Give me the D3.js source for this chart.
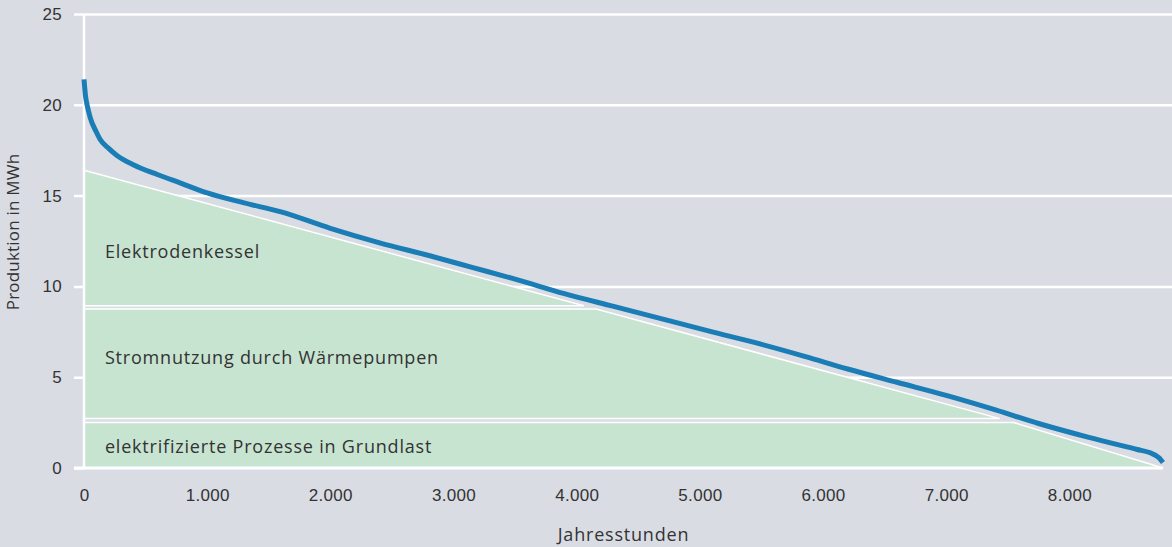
<!DOCTYPE html>
<html>
<head>
<meta charset="utf-8">
<script src="https://cdn.jsdelivr.net/npm/d3@7"></script>
<style>
	body { margin: 0; background: #d9dce3; }
	svg { display: block; font-family: "Open Sans", sans-serif; }
	.tick text { fill: #333; font-size: 17px; letter-spacing: 0.3px; }
</style>
</head>
<body>
<svg id="chart"></svg>
<script>
let w = 1172;
let h = 547;

// load duration curve (hours, MWh)
let hours = [0, 5, 12, 25, 50, 100, 130, 200, 270, 400, 600, 780, 1000, 1300, 1600, 2000, 2400, 2800, 3150, 3500, 3900, 4300, 4700, 5100, 5450, 5850, 6200, 6600, 7000, 7400, 7750, 8150, 8550, 8650, 8730, 8760];
let production = [21.4, 21.0, 20.5, 20.0, 19.3, 18.5, 18.1, 17.6, 17.2, 16.7, 16.15, 15.7, 15.15, 14.6, 14.1, 13.2, 12.4, 11.7, 11.05, 10.4, 9.6, 8.9, 8.2, 7.5, 6.9, 6.15, 5.45, 4.72, 4.0, 3.2, 2.45, 1.7, 1.02, 0.85, 0.55, 0.3];

// upper edge of the green blocks
let envHours = [0, 7500, 8760];
let envValues = [16.4, 2.6, 0];

// stacked blocks
let bandNames = ["elektrifizierte Prozesse in Grundlast", "Stromnutzung durch Wärmepumpen", "Elektrodenkessel"];
let bandLow = [0, 2.72, 8.93];
let bandHigh = [2.5, 8.75, 16.4];

let yTicks = [0, 5, 10, 15, 20, 25];
let xTicks = [0, 1000, 2000, 3000, 4000, 5000, 6000, 7000, 8000];

let margin = {left: 84, right: 9, top: 14, bottom: 79};

let svg = d3.select("#chart")
	.attr("width", w)
	.attr("height", h);

let x = d3.scaleLinear()
	.domain([0, 8760])
	.range([margin.left, w - margin.right]);

let y = d3.scaleLinear()
	.domain([0, 25])
	.range([h - margin.bottom, margin.top]);

let fmt = d3.formatLocale({decimal: ",", thousands: ".", grouping: [3], currency: ["", "€"]}).format(",");

// grid + y labels
let yAxis = svg.append("g")
	.attr("transform", `translate(${margin.left},0)`)
	.call(d3.axisLeft(y).tickValues(yTicks).tickSize(10).tickSizeOuter(0).tickPadding(12))
yAxis.select(".domain").remove();
yAxis.selectAll(".tick line")
	.attr("x2", d => d == 0 ? 0 : w - margin.left)
	.attr("x1", -10)
	.attr("stroke", "#fff")
	.attr("stroke-width", 2.5);

// x labels
let xAxis = svg.append("g")
	.attr("transform", `translate(0,${y(0)})`)
	.call(d3.axisBottom(x).tickValues(xTicks).tickFormat(fmt).tickSize(0).tickPadding(21));
xAxis.select(".domain").remove();

// blocks
let envPts = envHours.map((d, i) => [d, envValues[i]]);
function invEnv(v) {
	for (let i = 0; i < envPts.length - 1; i++) {
		let [h0, v0] = envPts[i], [h1, v1] = envPts[i + 1];
		if (v <= v0 && v >= v1) return h0 + (v0 - v) / (v0 - v1) * (h1 - h0);
	}
	return 0;
}
let bands = bandNames.map((name, i) => {
	let lo = bandLow[i], hi = bandHigh[i];
	let pts = [[0, lo], [0, hi], [invEnv(hi), hi]];
	envPts.forEach(p => { if (p[1] < hi && p[1] > lo) pts.push(p); });
	pts.push([invEnv(lo), lo]);
	return {name, lo, hi, pts};
});

svg.append("g")
	.selectAll("path")
	.data(bands)
	.join("path")
		.attr("d", d => d3.line().x(p => x(p[0])).y(p => y(p[1]))(d.pts) + "Z")
		.attr("fill", "#c7e4d1")
		.attr("stroke", "#fff")
		.attr("stroke-width", 1.5)
		.attr("stroke-linejoin", "miter");

// labels inside blocks
let labelAt = [1.2, 6.05, 11.9];
svg.append("g")
	.selectAll("text")
	.data(bands)
	.join("text")
		.attr("x", x(170))
		.attr("y", (d, i) => y(labelAt[i]))
		.attr("dy", "0.35em")
		.attr("fill", "#333")
		.style("font-size", "18px")
		.style("letter-spacing", "0.8px")
		.text(d => d.name);

// axis lines
svg.append("line")
	.attr("x1", x(0)).attr("x2", x(0))
	.attr("y1", y(25)).attr("y2", y(0))
	.attr("stroke", "#fff").attr("stroke-width", 2.5);
svg.append("line")
	.attr("x1", x(0) - 10).attr("x2", x(8760))
	.attr("y1", y(0)).attr("y2", y(0))
	.attr("stroke", "#fff").attr("stroke-width", 3);

// curve
svg.append("path")
	.datum(hours.map((d, i) => [d, production[i]]))
	.attr("d", d3.line().x(d => x(d[0])).y(d => y(d[1])).curve(d3.curveMonotoneX))
	.attr("fill", "none")
	.attr("stroke", "#1a7db5")
	.attr("stroke-width", 5);

// axis titles
svg.append("text")
	.attr("x", (x(0) + x(8760)) / 2)
	.attr("y", 535)
	.attr("dy", "0.35em")
	.attr("text-anchor", "middle")
	.attr("fill", "#333")
	.style("font-size", "18px")
	.style("letter-spacing", "0.8px")
	.text("Jahresstunden");

svg.append("text")
	.attr("transform", `translate(13,232) rotate(-90)`)
	.attr("dy", "0.35em")
	.attr("text-anchor", "middle")
	.attr("fill", "#333")
	.style("font-size", "17px")
	.style("letter-spacing", "0.2px")
	.text("Produktion in MWh");
</script>
</body>
</html>
